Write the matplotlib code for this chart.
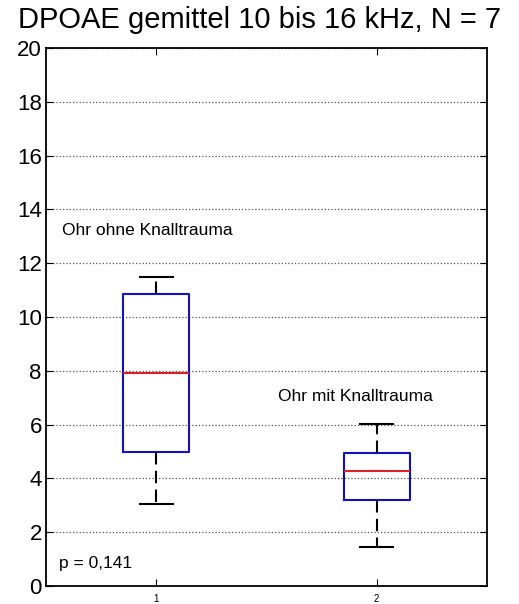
import matplotlib.pyplot as plt

plt.rcParams['font.family'] = ['Liberation Sans', 'DejaVu Sans']

# Kennwerte der beiden Gruppen (DPOAE gemittelt 10-16 kHz)
gruppen = [1, 2]
median = [7.92, 4.28]
q1 = [5.0, 3.2]
q3 = [10.87, 4.93]
whisker_unten = [3.05, 1.45]
whisker_oben = [11.5, 6.02]

stats = []
for i in range(len(gruppen)):
    stats.append({'med': median[i], 'q1': q1[i], 'q3': q3[i],
                  'whislo': whisker_unten[i], 'whishi': whisker_oben[i],
                  'fliers': []})

fig = plt.figure(figsize=(5.19, 6.04), dpi=100)
ax = fig.add_axes([0.0886, 0.0298, 0.8497, 0.8907])

ax.bxp(stats, positions=gruppen, widths=0.3, showfliers=False,
       boxprops=dict(color='#1010c0', linewidth=1.5),
       medianprops=dict(color='#e02020', linewidth=1.5),
       whiskerprops=dict(color='black', linewidth=1.5, linestyle=(0, (6, 3))),
       capprops=dict(color='black', linewidth=1.5), capwidths=0.15)

ax.set_xlim(0.5, 2.5)
ax.set_ylim(0, 20)
ax.set_yticks(range(0, 21, 2))
ax.set_xticks(gruppen)
ax.set_xticklabels([str(g) for g in gruppen], fontsize=7)
ax.tick_params(axis='y', labelsize=16, direction='in', right=True, length=5, pad=3)
ax.tick_params(axis='x', direction='in', top=True, length=5, pad=6)
ax.yaxis.grid(True, linestyle=':', color='#555555', linewidth=0.9)
for s in ax.spines.values():
    s.set_linewidth(1.3)

ax.text(0.573, 13.2, 'Ohr ohne Knalltrauma', fontsize=12.5, va='center')
ax.text(1.55, 7.06, 'Ohr mit Knalltrauma', fontsize=12.5, va='center')
ax.text(0.56, 0.85, 'p = 0,141', fontsize=12.5, va='center')

fig.suptitle('DPOAE gemittel 10 bis 16 kHz, N = 7', fontsize=21, y=0.99, va='top')

fig.savefig('out.png', dpi=100)
